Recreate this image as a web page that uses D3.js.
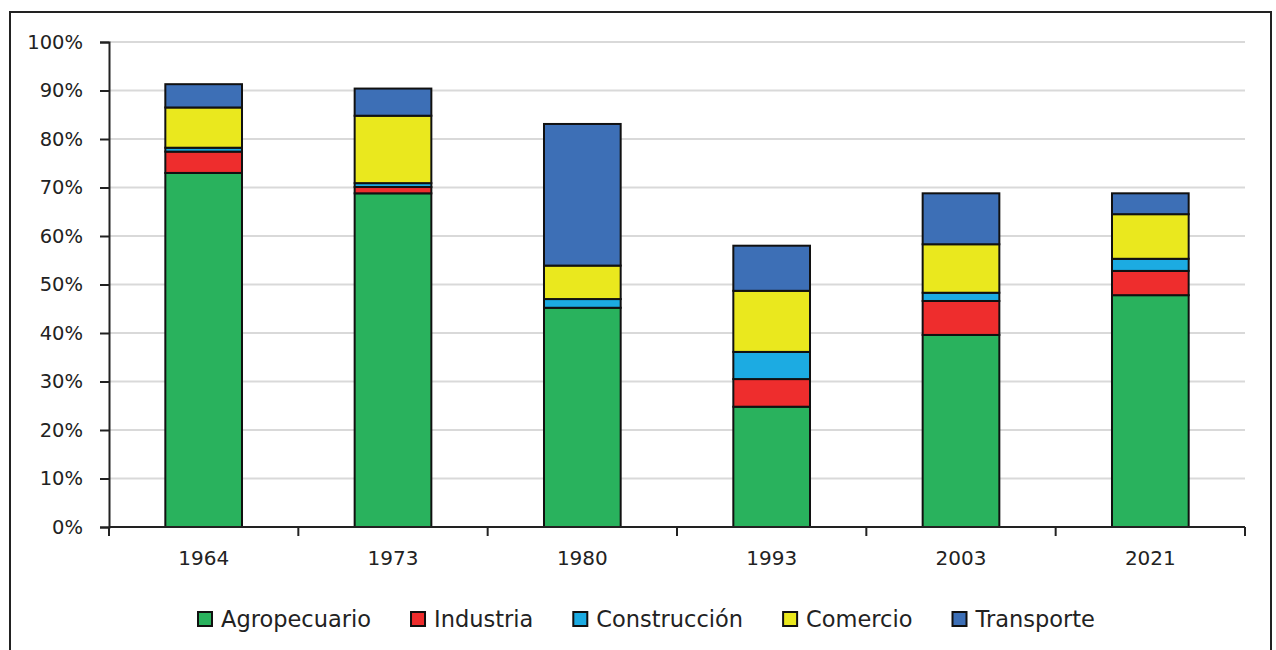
<!DOCTYPE html>
<html>
<head>
<meta charset="utf-8">
<script src="https://cdn.jsdelivr.net/npm/d3@7"></script>
<style>
  body { margin: 0; background: #fff; }
  text { font-family: "DejaVu Sans", Verdana, sans-serif; fill: #222; }
</style>
</head>
<body>
<svg id="chart" width="1276" height="650"></svg>
<script>
// data (percent of employment)
const years = ["1964", "1973", "1980", "1993", "2003", "2021"];
const sectors = ["Agropecuario", "Industria", "Construcción", "Comercio", "Transporte"];
const colors = ["#29b25d", "#ee2d2d", "#1cabe2", "#eae81e", "#3d6fb6"];
const agropecuario = [73.0, 68.8, 45.2, 24.8, 39.6, 47.8];
const industria    = [4.4, 1.3, 0.0, 5.7, 7.0, 5.0];
const construccion = [0.8, 0.8, 1.8, 5.6, 1.7, 2.5];
const comercio     = [8.3, 13.9, 6.9, 12.6, 10.0, 9.2];
const transporte   = [4.8, 5.6, 29.2, 9.3, 10.5, 4.3];
const yTicks = [0, 10, 20, 30, 40, 50, 60, 70, 80, 90, 100];

const table = years.map((y, i) => ({
  year: y,
  "Agropecuario": agropecuario[i],
  "Industria": industria[i],
  "Construcción": construccion[i],
  "Comercio": comercio[i],
  "Transporte": transporte[i]
}));

const svg = d3.select("#chart");
const margin = {left: 109, right: 31, top: 42, bottom: 123};
const W = 1276, H = 650;

// outer frame
svg.append("rect")
    .attr("x", 10).attr("y", 12)
    .attr("width", 1261).attr("height", 660)
    .attr("fill", "none")
    .attr("stroke", "#222")
    .attr("stroke-width", 2);

const x = d3.scaleBand()
    .domain(years)
    .range([margin.left, W - margin.right])
    .padding(0);

const y = d3.scaleLinear()
    .domain([0, 100])
    .range([H - margin.bottom, margin.top]);

const color = d3.scaleOrdinal().domain(sectors).range(colors);

// gridlines
svg.append("g")
    .selectAll("line")
    .data(yTicks.filter(d => d > 0))
    .join("line")
    .attr("x1", margin.left).attr("x2", W - margin.right)
    .attr("y1", d => y(d)).attr("y2", d => y(d))
    .attr("stroke", "#d9d9d9")
    .attr("stroke-width", 2);

// stacked bars
const series = d3.stack().keys(sectors)(table);
const barW = x.bandwidth() * 0.405;

svg.append("g")
    .selectAll("g")
    .data(series)
    .join("g")
    .attr("fill", d => color(d.key))
    .selectAll("rect")
    .data(d => d.filter(p => p[1] - p[0] > 0))
    .join("rect")
    .attr("x", d => x(d.data.year) + (x.bandwidth() - barW) / 2)
    .attr("y", d => y(d[1]))
    .attr("width", barW)
    .attr("height", d => y(d[0]) - y(d[1]))
    .attr("stroke", "#111")
    .attr("stroke-width", 2);

// y axis
const yAxis = svg.append("g")
    .attr("transform", `translate(${margin.left},0)`)
    .call(d3.axisLeft(y).tickValues(yTicks).tickFormat(d => d + "%").tickSize(9).tickPadding(17));
yAxis.select(".domain").attr("stroke", "#222").attr("stroke-width", 2);
yAxis.selectAll(".tick line").attr("stroke", "#222").attr("stroke-width", 2);
yAxis.selectAll("text")
    .style("font-size", "19.5px")
    .attr("fill", "#222")
    .attr("font-family", "DejaVu Sans");

// x axis with ticks at band boundaries
const xAxisG = svg.append("g")
    .attr("transform", `translate(0,${y(0)})`);
xAxisG.append("line")
    .attr("x1", margin.left).attr("x2", W - margin.right)
    .attr("stroke", "#222").attr("stroke-width", 2);
xAxisG.selectAll(".bt")
    .data(years.concat(["end"]))
    .join("line")
    .attr("class", "bt")
    .attr("x1", (d, i) => i < years.length ? x(d) : x(years[years.length - 1]) + x.bandwidth())
    .attr("x2", (d, i) => i < years.length ? x(d) : x(years[years.length - 1]) + x.bandwidth())
    .attr("y1", 0).attr("y2", 9)
    .attr("stroke", "#222").attr("stroke-width", 2);
xAxisG.selectAll(".lbl")
    .data(years)
    .join("text")
    .attr("class", "lbl")
    .attr("x", d => x(d) + x.bandwidth() / 2)
    .attr("y", 38)
    .attr("text-anchor", "middle")
    .style("font-size", "20px")
    .text(d => d);

// legend
const legend = svg.append("g").attr("transform", "translate(198,619)");
let lx = 0;
sectors.forEach((s, i) => {
  const g = legend.append("g").attr("transform", `translate(${lx},0)`);
  g.append("rect")
      .attr("x", 0).attr("y", -7)
      .attr("width", 14).attr("height", 14)
      .attr("fill", color(s))
      .attr("stroke", "#111")
      .attr("stroke-width", 2);
  const t = g.append("text")
      .attr("x", 23).attr("y", 0)
      .attr("dy", "0.36em")
      .style("font-size", "22.5px")
      .text(s);
  lx += 23 + t.node().getComputedTextLength() + 40;
});
</script>
</body>
</html>
